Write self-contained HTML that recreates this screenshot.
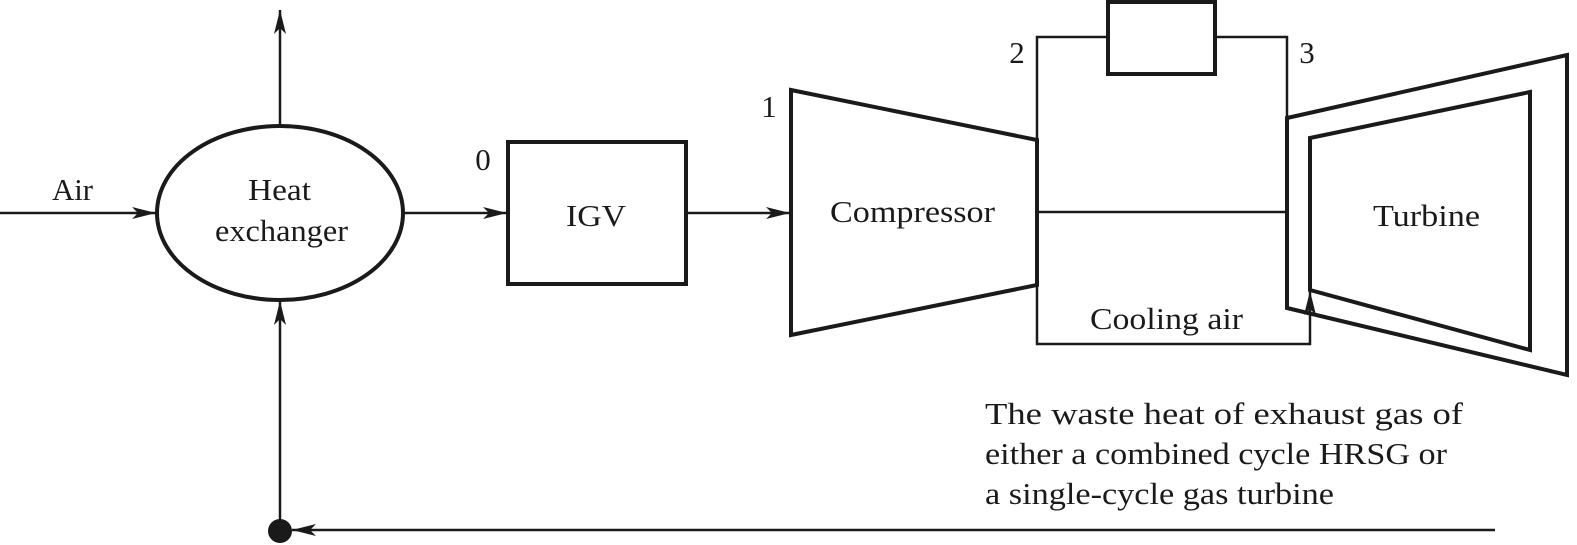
<!DOCTYPE html>
<html><head><style>body{margin:0;background:#fff}svg{display:block}</style></head><body>
<svg width="1577" height="545" viewBox="0 0 1577 545" xmlns="http://www.w3.org/2000/svg" font-family="'Liberation Serif',serif" font-size="31" fill="#1a1a1a">
<defs><marker id="a" markerWidth="24" markerHeight="12" refX="24" refY="6" orient="auto" markerUnits="userSpaceOnUse"><path d="M0,0 L24,6 L0,12 L6,6 Z" fill="#1a1a1a"/></marker></defs>
<g stroke="#1a1a1a" fill="none">
<ellipse cx="280" cy="213" rx="123" ry="87" stroke-width="4"/>
<line x1="280" y1="126" x2="280" y2="10" stroke-width="2.5" marker-end="url(#a)"/>
<line x1="0" y1="213" x2="156" y2="213" stroke-width="2.5" marker-end="url(#a)"/>
<line x1="404" y1="213" x2="507" y2="213" stroke-width="2.5" marker-end="url(#a)"/>
<rect x="508" y="142" width="178" height="142" stroke-width="4"/>
<line x1="686" y1="213" x2="790" y2="213" stroke-width="2.5" marker-end="url(#a)"/>
<polygon points="791,90 1037,140 1037,285 791,335" stroke-width="4"/>
<polyline points="1037,140 1037,37 1108,37" stroke-width="2.5"/>
<rect x="1108" y="2" width="107" height="72" stroke-width="4"/>
<polyline points="1215,37 1287,37 1287,118" stroke-width="2.5"/>
<polygon points="1287,118 1567,55 1567,375 1287,308" stroke-width="4"/>
<polygon points="1310,138 1530,92 1530,350 1310,290" stroke-width="4"/>
<line x1="1037" y1="212" x2="1287" y2="212" stroke-width="2.5"/>
<polyline points="1037,285 1037,344 1310,344 1310,291" stroke-width="2.5" marker-end="url(#a)"/>
<line x1="1495" y1="530" x2="292" y2="530" stroke-width="2.5" marker-end="url(#a)"/>
<line x1="280" y1="530" x2="280" y2="301" stroke-width="2.5" marker-end="url(#a)"/>
</g>
<ellipse cx="280" cy="531" rx="12" ry="12" fill="#1a1a1a"/>
<text x="52" y="200" textLength="41" lengthAdjust="spacingAndGlyphs">Air</text>
<text x="248" y="200" textLength="63" lengthAdjust="spacingAndGlyphs">Heat</text>
<text x="215" y="241" textLength="133" lengthAdjust="spacingAndGlyphs">exchanger</text>
<text x="483" y="170" text-anchor="middle">0</text>
<text x="566" y="226" textLength="60" lengthAdjust="spacingAndGlyphs">IGV</text>
<text x="769" y="117" text-anchor="middle">1</text>
<text x="830" y="222" textLength="165" lengthAdjust="spacingAndGlyphs">Compressor</text>
<text x="1017" y="63" text-anchor="middle">2</text>
<text x="1307" y="63" text-anchor="middle">3</text>
<text x="1373" y="226" textLength="107" lengthAdjust="spacingAndGlyphs">Turbine</text>
<text x="1090" y="329" textLength="153" lengthAdjust="spacingAndGlyphs">Cooling air</text>
<text x="985" y="424" textLength="478" lengthAdjust="spacingAndGlyphs">The waste heat of exhaust gas of</text>
<text x="985" y="464" textLength="462" lengthAdjust="spacingAndGlyphs">either a combined cycle HRSG or</text>
<text x="985" y="504" textLength="349" lengthAdjust="spacingAndGlyphs">a single-cycle gas turbine</text>
</svg>
</body></html>
